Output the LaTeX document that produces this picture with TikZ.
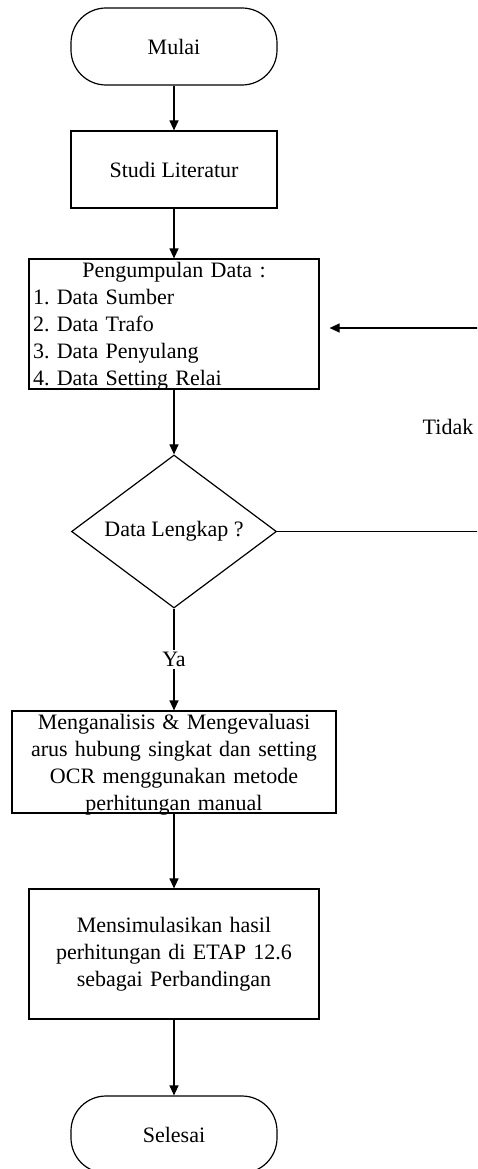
\documentclass[tikz,border=0pt]{standalone}
\usepackage{fontspec}
\setmainfont{Liberation Serif}
\usetikzlibrary{arrows.meta}
\usetikzlibrary{shapes.geometric}
\tikzset{
    base/.style = {align=center, font=\fontsize{22}{27}\selectfont\frenchspacing},
    terminal/.style = {base, rectangle, rounded corners=35pt, draw=black, minimum width=206pt, minimum height=77pt, line width=1.2pt},
    process/.style = {base, rectangle, draw=black, line width=1.2pt, inner xsep=4pt, inner ysep=0pt},
    decision/.style = {base, diamond, draw=black, aspect=1.34, minimum width=205pt, minimum height=153pt, inner sep=0pt, line width=1.2pt},
    flow/.style = {line width=1.2pt, -{Triangle[length=10pt,width=9pt]}},
    note/.style = {base, fill=white, inner sep=2pt}
}
\newcommand{\nodepth}[1]{\raisebox{0pt}[\height][0pt]{#1}}
\begin{document}
\begin{tikzpicture}[x=1pt, y=1pt]
    \clip (0,0) rectangle (477,-1169);
    % main column
    \node [terminal] (mulai) at (174,-46.5) {Mulai};
    \node [process, minimum width=206pt, minimum height=77pt] (studi) at (174,-169.5) {Studi Literatur};
    \node [process, text width=282pt, minimum height=130pt, align=left] (data) at (174,-324)
        {\makebox[282pt]{Pengumpulan Data :}\\1. Data Sumber\\2. Data Trafo\\3. Data Penyulang\\\nodepth{4. Data Setting Relai}};
    \node [decision] (lengkap) at (174,-531.5) {Data Lengkap ?};
    \node [process, text width=316pt, minimum height=102pt] (analisis) at (174,-762)
        {Menganalisis \& Mengevaluasi\\arus hubung singkat dan setting\\OCR menggunakan metode\\\nodepth{perhitungan manual}};
    \node [process, text width=282pt, minimum height=130pt] (simulasi) at (174,-954)
        {Mensimulasikan hasil\\perhitungan di ETAP 12.6\\sebagai Perbandingan};
    \node [terminal] (selesai) at (174,-1134.5) {Selesai};
    \node [base] (tidak) at (448,-427) {Tidak};
    % loop back
    \coordinate (belok1) at (495,-531.5);
    \coordinate (belok2) at (495,-328);
    \draw [flow] (mulai) -- (studi);
    \draw [flow] (studi) -- (data);
    \draw [flow] (data) -- (lengkap);
    \draw [flow] (lengkap) -- node [note] {Ya} (analisis);
    \draw [flow] (analisis) -- (simulasi);
    \draw [flow] (simulasi) -- (selesai);
    \draw [line width=1.2pt] (lengkap.east) -- (belok1) -- (belok2);
    \draw [flow, shorten >=10pt] (belok2) -- (data.east |- belok2);
\end{tikzpicture}
\end{document}
